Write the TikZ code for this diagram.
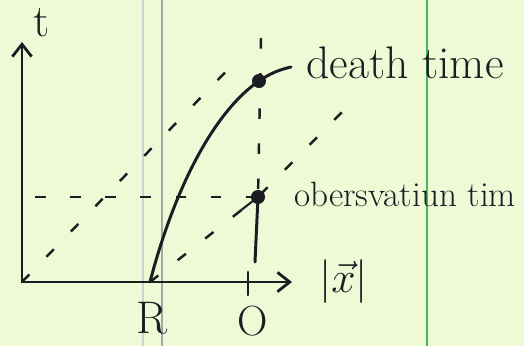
\documentclass[tikz,border=0pt]{standalone}
\usepackage{amsmath}
\usepackage{xcolor}
\usepackage{tikz}
\usetikzlibrary{arrows.meta,positioning,calc}
\definecolor{paper}{RGB}{238,250,214}
\definecolor{ink}{RGB}{28,28,34}
\definecolor{margin}{RGB}{70,185,95}

\begin{document}
\begin{tikzpicture}[
    x=0.02cm,y=0.02cm,
    >={Straight Barb[length=7pt,width=11pt,line width=1.6pt]},
    axis/.style={->,line width=1.7pt,ink,line cap=round},
    world/.style={line width=1.7pt,ink,line cap=round},
    guide/.style={line width=1.4pt,ink,dash pattern=on 6pt off 14pt},
    dot/.style={circle,fill=ink,inner sep=0pt,minimum size=8pt},
    lbl/.style={ink,font=\fontsize{26}{30}\selectfont},
]

% paper and ruled lines
\fill[paper] (0,0) rectangle (524,346);
\useasboundingbox (0,0) rectangle (524,346);
\draw[black!18,line width=0.6pt] (143,0) -- (143,346);
\draw[black!35,line width=1.2pt] (162,0) -- (162,346);
\draw[margin,line width=1.4pt] (427,0) -- (427,346);

\coordinate (o) at (22,64);
\coordinate (ttip) at (22,304);
\coordinate (xtip) at (292,64);
\coordinate (r) at (150,64);
\node[dot] (death) at (259,265) {};
\node[dot] (obs) at (258,149) {};

\draw[axis] (o) -- (ttip);
\draw[axis] (o) -- (xtip);
\node[lbl] (tlab) at (42,323) {t};
\node[lbl,right=12pt of xtip] (xlab) {$|\vec{x}|$};
\node[lbl] (rlab) at (152,28) {R};
\node[lbl,font=\fontsize{24}{28}\selectfont] (olab) at (253,25) {O};
\coordinate (tickhi) at (248,74);
\coordinate (ticklo) at (248,51);
\draw[world] (tickhi) -- (ticklo);

% light rays
\coordinate (ray1) at (242,291);
\coordinate (ray2) at (344,236);
\draw[guide] (o) -- (ray1);
\draw[guide] (r) -- (obs.center) -- (ray2);
\coordinate (hstart) at (35,149);
\draw[guide] (hstart) -- (obs);
\coordinate (vtop) at (261,308);
\draw[guide] (vtop) -- (obs);

% worldline of the source
\draw[world] (r) .. controls (175,160) and (215,235) .. (death.center);
\coordinate (dflick) at (291,279);
\draw[world] (death.center) to[bend left=10] (dflick);
\node[lbl,anchor=west] (dlab) at (300,283) {death time};

% observer
\coordinate (obot) at (255,84);
\coordinate (ohook) at (240,135);
\draw[world] (obs.center) -- (obot);
\draw[world,line width=1.2pt] (obs.center) -- (ohook);
\node[lbl,anchor=west,font=\fontsize{20}{24}\selectfont] (olab2) at (288,152) {obersvatiun tim};

\end{tikzpicture}
\end{document}
